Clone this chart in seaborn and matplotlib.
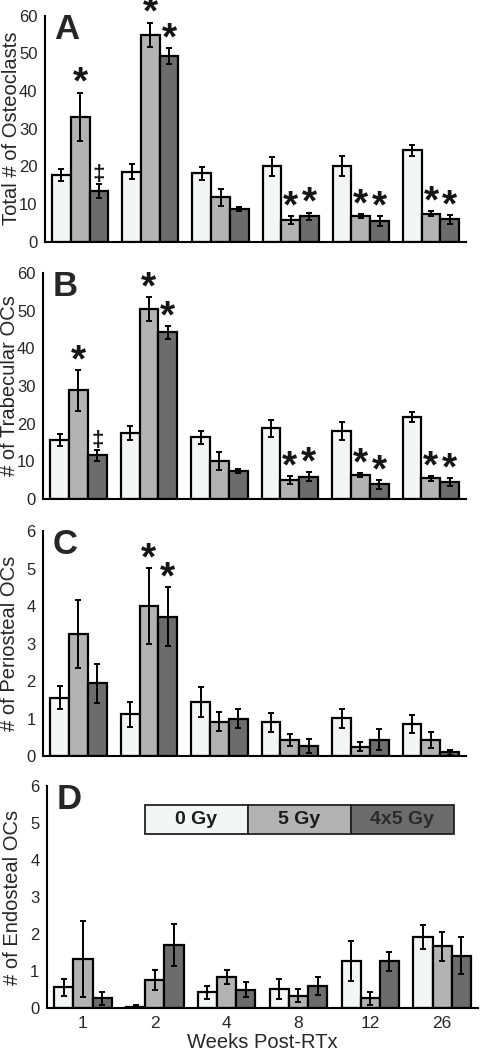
import numpy as np
import pandas as pd
import matplotlib
matplotlib.use('Agg')
import matplotlib.pyplot as plt
from matplotlib.ticker import FixedLocator
import seaborn as sns

# Weeks after irradiation and dose groups
weeks = ['1', '2', '4', '8', '12', '26']
doses = ['0 Gy', '5 Gy', '4x5 Gy']
colores = ['#f4f6f5', '#b3b3b3', '#6c6c6c']

# Panel A - total osteoclasts (mean, error)
total_0 = [17.7, 18.5, 18.1, 20.0, 20.0, 24.2]
total_5 = [33.2, 55.0, 11.7, 5.7, 6.8, 7.4]
total_4x5 = [13.5, 49.3, 8.7, 6.7, 5.4, 5.9]
total_err_0 = [1.7, 2.0, 1.8, 2.5, 2.6, 1.4]
total_err_5 = [6.4, 3.2, 2.3, 1.1, 0.6, 0.7]
total_err_4x5 = [1.9, 2.0, 0.6, 1.0, 1.4, 1.2]

# Panel B - trabecular OCs
trab_0 = [15.6, 17.5, 16.3, 18.7, 18.0, 21.7]
trab_5 = [28.8, 50.4, 10.0, 5.0, 6.3, 5.4]
trab_4x5 = [11.5, 44.2, 7.4, 5.9, 3.8, 4.5]
trab_err_0 = [1.7, 1.8, 1.8, 2.3, 2.3, 1.4]
trab_err_5 = [5.4, 3.2, 2.3, 1.1, 0.6, 0.7]
trab_err_4x5 = [1.5, 1.8, 0.6, 1.1, 1.1, 1.0]

# Panel C - periosteal OCs
peri_0 = [1.56, 1.11, 1.44, 0.90, 1.01, 0.85]
peri_5 = [3.26, 4.01, 0.92, 0.44, 0.25, 0.43]
peri_4x5 = [1.94, 3.72, 1.00, 0.27, 0.43, 0.10]
peri_err_0 = [0.30, 0.34, 0.40, 0.25, 0.25, 0.24]
peri_err_5 = [0.90, 1.02, 0.25, 0.16, 0.12, 0.21]
peri_err_4x5 = [0.52, 0.78, 0.25, 0.18, 0.28, 0.06]

# Panel D - endosteal OCs
endo_0 = [0.56, 0.04, 0.42, 0.51, 1.28, 1.92]
endo_5 = [1.33, 0.75, 0.84, 0.33, 0.26, 1.67]
endo_4x5 = [0.26, 1.71, 0.50, 0.59, 1.26, 1.42]
endo_err_0 = [0.23, 0.03, 0.17, 0.27, 0.54, 0.33]
endo_err_5 = [1.03, 0.27, 0.20, 0.18, 0.18, 0.40]
endo_err_4x5 = [0.17, 0.57, 0.20, 0.25, 0.26, 0.49]

# Significance marks: (week index, dose index, symbol)
marcas_ab = [(0, 1, '*'), (0, 2, '\u2021'), (1, 1, '*'), (1, 2, '*'),
             (3, 1, '*'), (3, 2, '*'), (4, 1, '*'), (4, 2, '*'),
             (5, 1, '*'), (5, 2, '*')]
marcas_c = [(1, 1, '*'), (1, 2, '*')]

paneles = [
    ('A', 'Total # of Osteoclasts', [total_0, total_5, total_4x5],
     [total_err_0, total_err_5, total_err_4x5], 60, 10, marcas_ab),
    ('B', '# of Trabecular OCs', [trab_0, trab_5, trab_4x5],
     [trab_err_0, trab_err_5, trab_err_4x5], 60, 10, marcas_ab),
    ('C', '# of Periosteal OCs', [peri_0, peri_5, peri_4x5],
     [peri_err_0, peri_err_5, peri_err_4x5], 6, 1, marcas_c),
    ('D', '# of Endosteal OCs', [endo_0, endo_5, endo_4x5],
     [endo_err_0, endo_err_5, endo_err_4x5], 6, 1, []),
]

# axes boxes in figure fraction [left, bottom, width, height]
cajas = [
    [0.094, 0.770, 0.877, 0.215],
    [0.090, 0.525, 0.881, 0.215],
    [0.090, 0.280, 0.881, 0.214],
    [0.098, 0.040, 0.898, 0.211],
]


def dibujar_panel(fig, caja, letra, etiqueta, medias, errores, ymax, paso, marcas, ultimo):
    ax = fig.add_axes(caja)
    df = pd.DataFrame({
        'week': np.tile(weeks, len(doses)),
        'dose': np.repeat(doses, len(weeks)),
        'value': np.concatenate(medias),
    })
    sns.barplot(data=df, x='week', y='value', hue='dose', order=weeks,
                hue_order=doses, palette=colores, saturation=1,
                edgecolor='black', linewidth=1.6, errorbar=None,
                legend=False, ax=ax)
    barras = list(ax.containers)

    # error bars on top of each bar
    for k, cont in enumerate(barras):
        xs = [b.get_x() + b.get_width() / 2 for b in cont]
        ax.errorbar(xs, medias[k], yerr=errores[k], fmt='none',
                    ecolor='black', elinewidth=1.4, capsize=2.5,
                    capthick=1.4, zorder=5)

    for (i, k, simbolo) in marcas:
        b = barras[k][i]
        x = b.get_x() + b.get_width() / 2
        y = medias[k][i] + errores[k][i]
        if simbolo == '*':
            ax.annotate(simbolo, (x, y), xytext=(0, -1), textcoords='offset points',
                        ha='center', va='baseline', fontsize=28, fontweight='bold',
                        color='#151515', annotation_clip=False)
        else:
            ax.annotate(simbolo, (x, y), xytext=(0, 2.5), textcoords='offset points',
                        ha='center', va='baseline', fontsize=16, fontweight='bold',
                        color='#151515', annotation_clip=False)

    ax.set_xlim(-0.5, len(weeks) - 0.5)
    ax.set_ylim(0, ymax)
    ax.set_yticks(np.arange(0, ymax + paso / 2, paso))
    ax.xaxis.set_minor_locator(FixedLocator(np.arange(-0.5, len(weeks), 1.0)))
    ax.tick_params(axis='x', which='major', length=0, labelsize=12.5, pad=6)
    ax.tick_params(axis='x', which='minor', length=4, width=1.3, direction='out')
    ax.tick_params(axis='y', length=4, width=1.3, direction='out', labelsize=12, pad=1.5)
    for lado in ['top', 'right']:
        ax.spines[lado].set_visible(False)
    for lado in ['left', 'bottom']:
        ax.spines[lado].set_linewidth(1.5)
        ax.spines[lado].set_color('black')

    ax.set_ylabel(etiqueta, fontsize=14.5)
    ax.yaxis.set_label_coords(-0.058, 0.5)
    if ultimo:
        ax.set_xlabel('Weeks Post-RTx', fontsize=14.5, labelpad=1)
    else:
        ax.set_xlabel('')
        ax.set_xticklabels([])

    ax.text(0.052, 0.94, letra, transform=ax.transAxes, ha='center', va='center',
            fontsize=25, fontweight='bold')
    return ax


def main():
    sns.set_theme(style='white')
    plt.rcParams['font.family'] = ['Liberation Sans', 'DejaVu Sans']

    fig = plt.figure(figsize=(4.8, 10.5), dpi=100)
    for n, (caja, panel) in enumerate(zip(cajas, paneles)):
        letra, etiqueta, medias, errores, ymax, paso, marcas = panel
        ax = dibujar_panel(fig, caja, letra, etiqueta, medias, errores,
                           ymax, paso, marcas, n == len(paneles) - 1)

    # dose key drawn as a one-row table inside panel D
    tabla = ax.table(cellText=[doses], cellColours=[colores], cellLoc='center',
                     bbox=[0.227, 0.786, 0.717, 0.13])
    tabla.auto_set_font_size(False)
    for (r, c), celda in tabla.get_celld().items():
        celda.set_edgecolor('#222222')
        celda.set_linewidth(1.3)
        celda.get_text().set_fontsize(14)
        celda.get_text().set_fontweight('bold')
        celda.get_text().set_color('#1a1a1a' if c < 2 else '#2a2a2a')

    fig.savefig('out.png', dpi=100)
    plt.close(fig)


if __name__ == '__main__':
    main()
